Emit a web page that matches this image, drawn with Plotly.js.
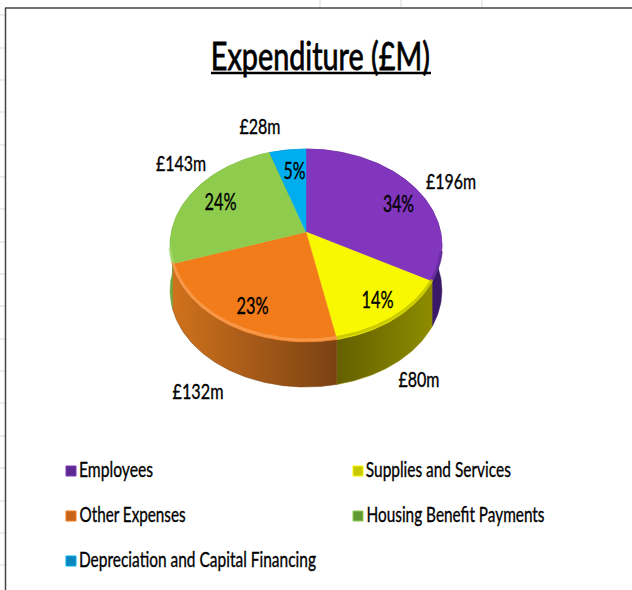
<!DOCTYPE html>
<html>
<head>
<meta charset="utf-8">
<script src="https://cdn.plot.ly/plotly-3.0.1.min.js"></script>
<style>html,body{margin:0;padding:0;background:#fff}#chart{width:632px;height:590px}</style>
</head>
<body>
<div id="chart"></div>
<script>
// ---- data ----
const categories = ['Employees', 'Supplies and Services', 'Other Expenses', 'Housing Benefit Payments', 'Depreciation and Capital Financing'];
const values = [196, 80, 132, 143, 28];
const percentLabels = ['34%', '14%', '23%', '24%', '5%'];
const valueLabels = ['£196m', '£80m', '£132m', '£143m', '£28m'];

// ---- styles ----
const topColors = ['#8236BE', '#F8F800', '#F27B1A', '#8FCC4E', '#00ADEF'];
const wallStops = [
  ['#3A1A68', '#3A1A68'],
  ['#646000', '#8E8B00'],
  ['#D0721C', '#7A4213'],
  ['#6FA63A', '#6FA63A'],
  ['#0080B0', '#0080B0']
];
const rimColors = ['#5A2A90', '#B8B800', '#FBA35A', '#A8DC70', '#00ADEF'];
const swatchColors = ['#5A2A90', '#C8C800', '#C8641A', '#5F9A35', '#0A86BE'];
const percentPos = [[398, 202], [377, 298], [252, 304], [220, 200], [294, 169]];
const percentWidth = [31, 32, 32, 32, 22];
const valuePos = [[451, 180], [419, 378], [198, 390], [181, 162], [260, 125]];
const valueWidth = [50, 41, 51, 50, 41];
const legendPos = [[71, 470], [358, 470], [71, 515], [358, 515], [71, 560]];
const legendTextOffset = 2;
const legendWidth = [74, 145, 106, 178, 237];
const FONT = 'Lato, "Liberation Sans", sans-serif';

// ---- projection of the pie disc (perspective tilt) ----
const CX = 306, CY = 232, RX = 134.6, RY = 94.6, K = 0.14, DEPTH = 45, WARP = 3;
function project(deg, down) {
  const w = deg - WARP * Math.sin(deg / 2 * Math.PI / 180);
  const t = w * Math.PI / 180, u = Math.sin(t), v = Math.cos(t), d = 1 + K * v;
  return [CX + RX * u / d, CY - RY * v / d + (down || 0)];
}
function arc(a, b, down) {
  const pts = [], n = Math.max(2, Math.ceil(Math.abs(b - a)));
  for (let i = 0; i <= n; i++) pts.push(project(a + (b - a) * i / n, down));
  return pts;
}

const total = values.reduce((s, v) => s + v, 0);
const angles = [0];
values.forEach(v => angles.push(angles[angles.length - 1] + v / total * 360));

const traces = [];
// side walls
values.forEach((v, i) => {
  const a = angles[i], b = angles[i + 1];
  const pts = arc(a, b, 0).concat(arc(b, a, DEPTH));
  pts.push(pts[0]);
  traces.push({
    type: 'scatter', mode: 'lines', name: categories[i] + ' side', showlegend: false, hoverinfo: 'skip',
    x: pts.map(p => p[0]), y: pts.map(p => p[1]),
    line: {width: 0.5, color: wallStops[i][1]},
    fill: 'toself',
    fillgradient: {type: 'horizontal', colorscale: [[0, wallStops[i][0]], [1, wallStops[i][1]]]}
  });
});
// top faces
values.forEach((v, i) => {
  const pts = [[CX, CY]].concat(arc(angles[i], angles[i + 1], 0));
  pts.push([CX, CY]);
  traces.push({
    type: 'scatter', mode: 'lines', name: categories[i], showlegend: false,
    x: pts.map(p => p[0]), y: pts.map(p => p[1]),
    line: {width: 0.5, color: topColors[i]},
    fill: 'toself', fillcolor: topColors[i],
    text: valueLabels[i] + ' (' + percentLabels[i] + ')', hoverinfo: 'name+text'
  });
});
// bevel along the front rim
values.forEach((v, i) => {
  const a = Math.max(angles[i], 105), b = Math.min(angles[i + 1], 262);
  if (b <= a) return;
  const pts = arc(a, b, 0);
  traces.push({
    type: 'scatter', mode: 'lines', showlegend: false, hoverinfo: 'skip',
    x: pts.map(p => p[0]), y: pts.map(p => p[1] - 2),
    line: {width: 3, color: rimColors[i]}, opacity: 0.7
  });
});
// legend swatches
categories.forEach((c, i) => {
  traces.push({
    type: 'scatter', mode: 'markers', name: c + ' key', showlegend: false, hoverinfo: 'skip',
    x: [legendPos[i][0]], y: [legendPos[i][1] + 1],
    marker: {symbol: 'square', size: 10, color: swatchColors[i], line: {width: 1, color: topColors[i]}}
  });
});

const annotations = [];
const targetWidths = [];
const note = (text, x, y, size, width) => {
  annotations.push({
    text, x, y, xref: 'x', yref: 'y', showarrow: false, xanchor: 'center', yanchor: 'middle',
    font: {family: FONT, size, color: '#000'}
  });
  targetWidths.push(width);
};
percentLabels.forEach((t, i) => note(t, percentPos[i][0], percentPos[i][1], 24, percentWidth[i]));
valueLabels.forEach((t, i) => note(t, valuePos[i][0], valuePos[i][1], 21, valueWidth[i]));
categories.forEach((t, i) => note(t, legendPos[i][0] + 8 + legendWidth[i] / 2, legendPos[i][1] - legendTextOffset, 22, legendWidth[i]));
note('Expenditure (£M)', 320.5, 55, 39, 219);

const GRID = '#DADADA', FRAME = '#444444';
const shapes = [];
const seg = (x0, y0, x1, y1, color, width) => shapes.push({
  type: 'line', xref: 'x', yref: 'y', x0, y0, x1, y1, layer: 'below', line: {color, width}
});
[15, 48, 80, 112, 145, 177, 209, 242, 274, 306, 339, 371, 403, 436, 468, 501, 533, 565].forEach(y => seg(0, y, 5, y, GRID, 1));
[320, 401, 482].forEach(x => seg(x, 0, x, 7, GRID, 1));
seg(5.5, 8, 5.5, 590, FRAME, 1.5);
seg(5, 8, 632, 8, FRAME, 1.5);
shapes.push({type: 'line', xref: 'x', yref: 'y', x0: 211, y0: 73, x1: 431, y1: 73, line: {color: '#000', width: 2.5}});

Plotly.newPlot('chart', traces, {
  width: 632, height: 590,
  margin: {l: 0, r: 0, t: 0, b: 0},
  paper_bgcolor: '#fff', plot_bgcolor: '#fff',
  showlegend: false,
  xaxis: {range: [0, 632], visible: false, fixedrange: true},
  yaxis: {range: [590, 0], visible: false, fixedrange: true},
  annotations, shapes
}, {displayModeBar: false}).then(() => {
  // the reference lettering is condensed: fit each label to its width
  document.querySelectorAll('#chart g.annotation').forEach(g => {
    const idx = +g.getAttribute('data-index');
    const txt = g.querySelector('text.annotation-text');
    if (!txt || !targetWidths[idx]) return;
    txt.setAttribute('textLength', targetWidths[idx]);
    txt.setAttribute('lengthAdjust', 'spacingAndGlyphs');
    txt.style.stroke = '#000';
    txt.style.strokeWidth = targetWidths[idx] === 219 ? '0.8px' : '0.35px';
  });
});
</script>
</body>
</html>
